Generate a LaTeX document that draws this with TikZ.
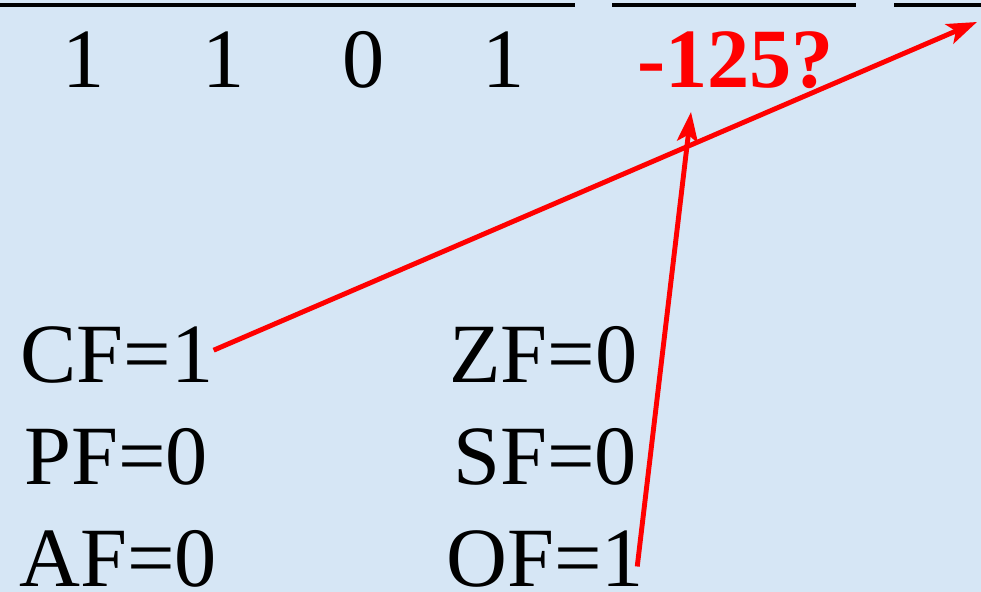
\documentclass[tikz,border=0pt]{standalone}
\usepackage{fontspec}
\setmainfont{Liberation Serif}
\usepackage{tikz}
\usetikzlibrary{arrows.meta}

\definecolor{sfondo}{RGB}{214,230,245}

\begin{document}
\begin{tikzpicture}[font=\fontsize{48}{56}\selectfont]

	\def\boxW{19.62}
	\def\boxH{11.84}

	\tikzset{
		flag/.style={anchor=base west, inner sep=0pt},
		cifra/.style={anchor=base, inner sep=0pt},
		freccia/.style={red, line width=2.8pt, -{Stealth[length=0.6cm, width=0.42cm, inset=0.14cm]}}
	}

	% Sfondo
	\useasboundingbox (0, 0) rectangle (\boxW, \boxH);
	\fill[sfondo] (0, 0) rectangle (\boxW, \boxH);

	% --- LINEE IN ALTO ---
	\draw[line width=2.6pt] (0, 11.74) -- (11.5, 11.74);
	\draw[line width=2.6pt] (12.24, 11.74) -- (17.12, 11.74);
	\draw[line width=2.6pt] (17.88, 11.74) -- (\boxW, 11.74);

	% --- BIT E RISULTATO ---
	\foreach \b [count=\i from 0] in {1, 1, 0, 1}
		\node[cifra] (bit\i) at (1.68 + 2.8*\i, 10.08) {\b};
	\node[flag, red, font=\fontsize{48}{56}\selectfont\bfseries] (ris) at (12.74, 10.08) {-125?};

	% --- FLAG ---
	\node[flag] (cf) at (0.40, 4.18) {CF=1};
	\node[flag] (pf) at (0.48, 2.14) {PF=0};
	\node[flag] (af) at (0.38, 0.10) {AF=0};
	\node[flag] (zf) at (8.98, 4.18) {ZF=0};
	\node[flag] (sf) at (9.06, 2.14) {SF=0};
	\node[flag] (of) at (8.92, 0.10) {OF=1};

	% --- FRECCE ---
	\coordinate (puntaA) at (19.54, 11.40);
	\coordinate (puntaB) at (13.82, 9.60);
	\draw[freccia] ([yshift=3pt]cf.east) -- (puntaA);
	\draw[freccia] ([xshift=-4pt, yshift=-4pt]of.east) -- (puntaB);

\end{tikzpicture}
\end{document}
